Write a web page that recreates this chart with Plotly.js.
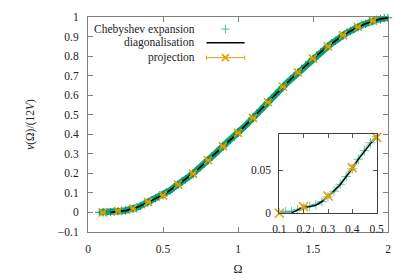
<!DOCTYPE html>
<html>
<head>
<meta charset="utf-8">
<script src="https://cdn.plot.ly/plotly-3.0.1.min.js"></script>
<style>html,body{margin:0;padding:0;background:#fff;}#chart{width:415px;height:280px;}</style>
</head>
<body>
<div id="chart"></div>
<script>
// Omega grid (shared by Chebyshev expansion and diagonalisation)
var omega = [0.05,0.075,0.1,0.125,0.15,0.175,0.2,0.225,0.25,0.275,0.3,0.325,0.35,0.375,0.4,0.425,0.45,0.475,0.5,
  0.525,0.55,0.575,0.6,0.625,0.65,0.675,0.7,0.725,0.75,0.775,0.8,0.825,0.85,0.875,0.9,0.925,0.95,0.975,1.0,
  1.025,1.05,1.075,1.1,1.125,1.15,1.175,1.2,1.225,1.25,1.275,1.3,1.325,1.35,1.375,1.4,1.425,1.45,1.475,1.5,
  1.525,1.55,1.575,1.6,1.625,1.65,1.675,1.7,1.725,1.75,1.775,1.8,1.825,1.85,1.875,1.9,1.925,1.95,1.975,2.0];

var chebyshev = [null,0.001,0.001,0.0015,0.002,0.004,0.0065,0.008,0.010,0.0135,0.019,0.0255,0.0335,0.0425,0.0515,0.0625,0.0725,0.0815,0.0885,
  0.102,0.114,0.130,0.142,0.158,0.170,0.186,0.198,0.217,0.232,0.251,0.266,0.286,0.302,0.321,0.337,0.356,0.371,0.390,0.406,
  0.427,0.444,0.465,0.483,0.505,0.523,0.545,0.563,0.585,0.603,0.624,0.642,0.662,0.679,0.699,0.715,0.735,0.751,0.771,0.786,
  0.804,0.818,0.836,0.849,0.866,0.878,0.894,0.906,0.919,0.928,0.940,0.948,0.959,0.965,0.974,0.979,0.986,0.989,0.994,0.996];

var diagonalisation = [null,null,null,null,0.0003,0.004,0.0073,0.0078,0.0095,0.0135,0.0195,0.026,0.033,0.042,0.052,0.0625,0.072,0.0805,0.088,
  0.101,0.115,0.129,0.143,0.157,0.171,0.185,0.199,0.216,0.233,0.250,0.267,0.285,0.303,0.320,0.338,0.355,0.372,0.389,0.407,
  0.426,0.445,0.464,0.484,0.504,0.524,0.544,0.564,0.584,0.604,0.623,0.643,0.661,0.680,0.698,0.716,0.734,0.752,0.770,0.787,
  0.803,0.819,0.835,0.850,0.865,0.879,0.893,0.907,0.918,0.929,0.939,0.949,0.958,0.966,0.973,0.980,0.985,0.990,0.993,0.995];

// Projection points with error bars
var projOmega = [0.1,0.2,0.3,0.4,0.5,0.6,0.7,0.8,0.9,1.0,1.1,1.2,1.3,1.4,1.5,1.6,1.7,1.8,1.9];
var projNu = [0,0.0076,0.0200,0.0527,0.0877,0.143,0.199,0.267,0.338,0.407,0.484,0.564,0.643,0.716,0.787,0.850,0.907,0.949,0.980];
var projErr = [0.0005,0.001,0.0015,0.003,0.002,0.003,0.003,0.003,0.003,0.003,0.003,0.003,0.003,0.003,0.003,0.003,0.003,0.003,0.003];

// Legend labels
var legendLabels = ["Chebyshev expansion", "diagonalisation", "projection"];

var TEAL = '#009e73', ORANGE = '#e69f00';
var FONT = 'Liberation Serif';
var FS = 11.5;

var traces = [
  // main
  {x: omega, y: chebyshev, xaxis:'x', yaxis:'y', mode:'lines+markers', cliponaxis:false,
   line:{color:'#14a47c', width:6.5}, marker:{symbol:'cross-thin', size:6, line:{color:TEAL, width:1}}, showlegend:false, hoverinfo:'skip'},
  {x: omega, y: diagonalisation, xaxis:'x', yaxis:'y', mode:'lines', line:{color:'#000', width:1.6}, showlegend:false, hoverinfo:'skip'},
  {x: projOmega, y: projNu, xaxis:'x', yaxis:'y', mode:'markers', cliponaxis:false,
   marker:{symbol:'x-thin', size:8, line:{color:ORANGE, width:1.6}},
   error_y:{type:'data', array:projErr, color:ORANGE, thickness:1, width:3}, showlegend:false, hoverinfo:'skip'},
  // inset
  {x: omega, y: chebyshev, xaxis:'x2', yaxis:'y2', mode:'lines+markers',
   line:{color:'rgba(0,158,115,0.4)', width:3}, marker:{symbol:'cross-thin', size:7, line:{color:'rgba(0,158,115,0.55)', width:1}}, showlegend:false, hoverinfo:'skip'},
  {x: omega, y: diagonalisation, xaxis:'x2', yaxis:'y2', mode:'lines', line:{color:'#000', width:1.3}, showlegend:false, hoverinfo:'skip'},
  {x: projOmega, y: projNu, xaxis:'x2', yaxis:'y2', mode:'markers', cliponaxis:false,
   marker:{symbol:'x-thin', size:9, line:{color:ORANGE, width:1.6}},
   error_y:{type:'data', array:projErr, color:ORANGE, thickness:1, width:3}, showlegend:false, hoverinfo:'skip'},
  // legend samples (overlay axes in plot-fraction units)
  {x:[0.458], y:[0.944], xaxis:'x3', yaxis:'y3', mode:'markers', cliponaxis:false,
   marker:{symbol:'cross-thin', size:6, line:{color:'#4dbb9b', width:1}}, showlegend:false, hoverinfo:'skip'},
  {x:[0.395,0.522], y:[0.880,0.880], xaxis:'x3', yaxis:'y3', mode:'lines', line:{color:'#000', width:1.6}, showlegend:false, hoverinfo:'skip'},
  {x:[0.395,0.522], y:[0.811,0.811], xaxis:'x3', yaxis:'y3', mode:'lines', line:{color:ORANGE, width:1}, showlegend:false, hoverinfo:'skip'},
  {x:[0.458], y:[0.811], xaxis:'x3', yaxis:'y3', mode:'markers', cliponaxis:false,
   marker:{symbol:'x-thin', size:7, line:{color:ORANGE, width:1.6}}, showlegend:false, hoverinfo:'skip'}
];

var axisCommon = {
  ticks:'inside', showline:true, mirror:'ticks', zeroline:false, showgrid:false,
  tickfont:{family:FONT, size:FS, color:'#222'}, ticklabelstandoff:6
};

var layout = {
  width:415, height:280,
  margin:{l:88, r:27, t:17, b:48, pad:0},
  paper_bgcolor:'#fff', plot_bgcolor:'rgba(0,0,0,0)',
  font:{family:FONT, size:FS, color:'#222'},
  xaxis: Object.assign({}, axisCommon, {domain:[0,1], anchor:'y', range:[0,2], tick0:0, dtick:0.5,
    ticklen:5, tickcolor:'#808080', linecolor:'#808080', linewidth:1,
    title:{text:'Ω', font:{family:FONT, size:12, color:'#222'}, standoff:10}}),
  yaxis: Object.assign({}, axisCommon, {domain:[0,1], anchor:'x', range:[-0.1,1], tick0:0, dtick:0.1,
    ticklen:5, tickcolor:'#808080', linecolor:'#808080', linewidth:1,
    title:{text:'<i>ν</i>(Ω)/(12<i>V</i>)', font:{family:FONT, size:FS, color:'#222'}, standoff:20}}),
  xaxis2: Object.assign({}, axisCommon, {domain:[0.638,0.962], anchor:'y2', range:[0.1,0.5], tick0:0.1, dtick:0.1,
    ticklen:4, tickcolor:'#555', linecolor:'#404040', linewidth:1, ticklabelstandoff:5}),
  yaxis2: Object.assign({}, axisCommon, {domain:[0.087,0.454], anchor:'x2', range:[0,0.0912],
    tickvals:[0,0.05], ticktext:['0','0.05'],
    ticklen:4, tickcolor:'#555', linecolor:'#404040', linewidth:1, ticklabelstandoff:5}),
  xaxis3: {overlaying:'x', anchor:'y3', range:[0,1], visible:false, fixedrange:true},
  yaxis3: {overlaying:'y', anchor:'x3', range:[0,1], visible:false, fixedrange:true},
  annotations: [
    {xref:'paper', yref:'paper', x:0.364, y:0.944, xanchor:'right', yanchor:'middle', showarrow:false, text:legendLabels[0], font:{family:FONT, size:FS, color:'#222'}},
    {xref:'paper', yref:'paper', x:0.364, y:0.880, xanchor:'right', yanchor:'middle', showarrow:false, text:legendLabels[1], font:{family:FONT, size:FS, color:'#222'}},
    {xref:'paper', yref:'paper', x:0.364, y:0.811, xanchor:'right', yanchor:'middle', showarrow:false, text:legendLabels[2], font:{family:FONT, size:FS, color:'#222'}}
  ],
  shapes: [
    {type:'line', xref:'paper', yref:'paper', x0:0.395, x1:0.395, y0:0.801, y1:0.821, line:{color:ORANGE, width:1}},
    {type:'line', xref:'paper', yref:'paper', x0:0.522, x1:0.522, y0:0.801, y1:0.821, line:{color:ORANGE, width:1}}
  ],
  showlegend:false
};

Plotly.newPlot('chart', traces, layout, {staticPlot:true, displayModeBar:false});
</script>
</body>
</html>
